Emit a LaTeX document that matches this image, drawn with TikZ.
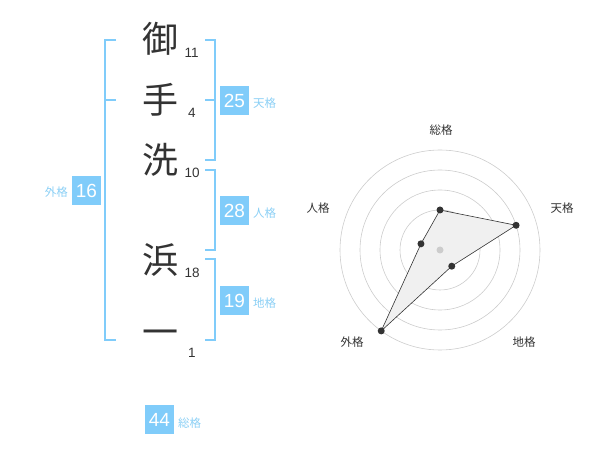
\documentclass[tikz,border=0pt]{standalone}
\usepackage{fontspec}
\usetikzlibrary{calc}
\setmainfont{Liberation Sans}
\newfontfamily\cjk{Noto Sans CJK JP}
\definecolor{kblue}{HTML}{80CCFA}
\definecolor{klabel}{HTML}{8ACFF5}
\definecolor{ink}{HTML}{333333}
\definecolor{ring}{HTML}{CCCCCC}
\begin{document}
\begin{tikzpicture}[x=1pt,y=-1pt,
  kanji/.style={font=\cjk\fontsize{36}{36}\selectfont, text=ink, inner sep=0},
  strokes/.style={font=\fontsize{13.5}{13.5}\selectfont, text=ink, inner sep=0, anchor=west},
  numbox/.style={fill=kblue, text=white, minimum width=29pt, minimum height=29pt, inner sep=0, font=\fontsize{19}{19}\selectfont},
  kaku/.style={font=\cjk\fontsize{11.5}{11.5}\selectfont, text=klabel, inner sep=0},
  bracket/.style={draw=kblue, line width=2pt},
  rlabel/.style={font=\cjk\fontsize{11.5}{11.5}\selectfont, text=ink, inner sep=0},
  ringline/.style={draw=ring, line width=0.6pt},
  dot/.style={circle, fill=ink, inner sep=0, minimum size=7pt}
]
\useasboundingbox (0,0) rectangle (600,470);
% name characters
\node[kanji] (c1) at (160,39) {御};
\node[kanji] (c2) at (160,100) {手};
\node[kanji] (c3) at (160,160) {洗};
\node[kanji] (c4) at (160,260) {浜};
\node[kanji] (c5) at (160,338) {一};
\node[strokes] (s1) at (184.5,53) {11};
\node[strokes] (s2) at (188,113) {4};
\node[strokes] (s3) at (184.5,173) {10};
\node[strokes] (s4) at (184.5,273) {18};
\node[strokes] (s5) at (188,353) {1};
% left bracket (gaikaku)
\draw[bracket] (116,40) -- (105,40) -- (105,340) -- (116,340);
\draw[bracket] (105,100) -- (116,100);
\node[numbox] (b16) at (86.5,190.5) {16};
\node[kaku, anchor=east] (l16) at (68,192) {外格};
% right brackets
\draw[bracket] (205,40) -- (215,40) -- (215,160) -- (205,160);
\draw[bracket] (205,100) -- (215,100);
\node[numbox] (b25) at (234.5,100.5) {25};
\node[kaku, anchor=west] (l25) at (253,103) {天格};
\draw[bracket] (205,170) -- (215,170) -- (215,250) -- (205,250);
\node[numbox] (b28) at (234.5,210.5) {28};
\node[kaku, anchor=west] (l28) at (253,213) {人格};
\draw[bracket] (205,259) -- (215,259) -- (215,340) -- (205,340);
\node[numbox] (b19) at (234.5,300.5) {19};
\node[kaku, anchor=west] (l19) at (253,303) {地格};
\node[numbox] (b44) at (159.5,419.5) {44};
\node[kaku, anchor=west] (l44) at (178,423) {総格};
% radar
\coordinate (O) at (440,250);
\foreach \r in {20,40,60,80,100} \draw[ringline] (O) circle[radius=\r];
\coordinate (pS) at ($(O)+(0,-40)$);
\coordinate (pT) at ($(O)+({80*cos(18)},{-80*sin(18)})$);
\coordinate (pC) at ($(O)+({20*cos(54)},{20*sin(54)})$);
\coordinate (pG) at ($(O)+({-100*cos(54)},{100*sin(54)})$);
\coordinate (pJ) at ($(O)+({-20*cos(18)},{-20*sin(18)})$);
\filldraw[fill=black!6, draw=ink, line width=0.6pt] (pS) -- (pT) -- (pC) -- (pG) -- (pJ) -- cycle;
\node[circle, fill=ring, inner sep=0, minimum size=7pt] (cen) at (O) {};
\node[dot] (dS) at (pS) {};
\node[dot] (dT) at (pT) {};
\node[dot] (dC) at (pC) {};
\node[dot] (dG) at (pG) {};
\node[dot] (dJ) at (pJ) {};
\node[rlabel] (rS) at (441,130) {総格};
\node[rlabel] (rT) at (562,208) {天格};
\node[rlabel] (rJ) at (318,208) {人格};
\node[rlabel] (rG) at (352,342) {外格};
\node[rlabel] (rC) at (524,342) {地格};
\end{tikzpicture}
\end{document}
